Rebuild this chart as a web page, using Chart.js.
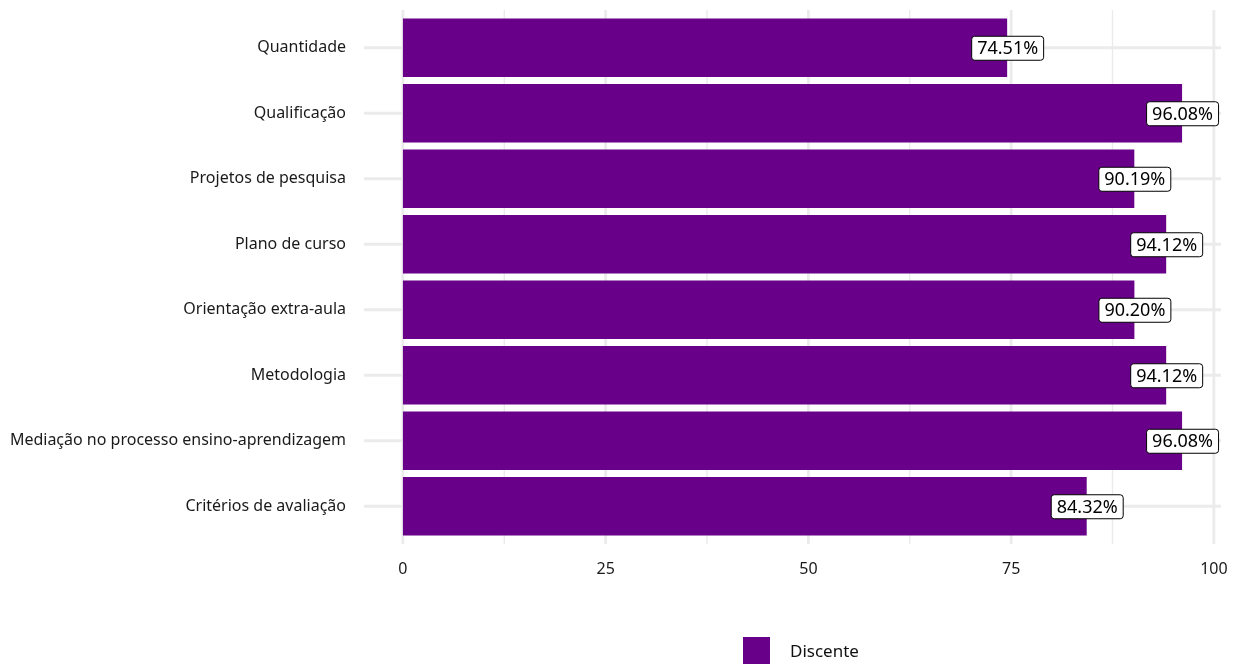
<!DOCTYPE html>
<html>
<head>
<meta charset="utf-8">
<script src="https://cdn.jsdelivr.net/npm/chart.js@4"></script>
<style>
    html, body { margin: 0; padding: 0; background: #fff; }
    #wrap { width: 1243px; height: 664px; }
</style>
</head>
<body>
<div id="wrap"><canvas id="chart_discente"></canvas></div>
<script>
const categories = [
    "Quantidade",
    "Qualificação",
    "Projetos de pesquisa",
    "Plano de curso",
    "Orientação extra-aula",
    "Metodologia",
    "Mediação no processo ensino-aprendizagem",
    "Critérios de avaliação"
]
const discente_values = [74.51, 96.08, 90.19, 94.12, 90.20, 94.12, 96.08, 84.32]
const x_ticks = [0, 25, 50, 75, 100]
const x_minor = [12.5, 37.5, 62.5, 87.5]
const series_name = "Discente"

const PURPLE = "#68008a"
const GRID = "#ebebeb"
const FONT = "'Noto Sans', sans-serif"

// ggplot-like panel grid (drawn before the bars)
const gridPlugin = {
    id: "gridPlugin",
    beforeDatasetsDraw(chart) {
        const ctx = chart.ctx
        const x = chart.scales.x
        const y = chart.scales.y
        const area = chart.chartArea
        const top = area.top - 5
        const bottom = area.bottom + 5
        ctx.save()
        ctx.strokeStyle = GRID
        ctx.lineWidth = 1.4
        x_minor.forEach(v => {
            const px = x.getPixelForValue(v)
            ctx.beginPath(); ctx.moveTo(px, top); ctx.lineTo(px, bottom); ctx.stroke()
        })
        ctx.lineWidth = 2.8
        x_ticks.forEach(v => {
            const px = x.getPixelForValue(v)
            ctx.beginPath(); ctx.moveTo(px, top); ctx.lineTo(px, bottom); ctx.stroke()
        })
        categories.forEach((c, i) => {
            const py = y.getPixelForValue(i)
            ctx.beginPath(); ctx.moveTo(area.left, py); ctx.lineTo(area.right, py); ctx.stroke()
        })
        ctx.restore()
    }
}

// value boxes at the end of each bar + bottom legend
const labelPlugin = {
    id: "labelPlugin",
    afterDatasetsDraw(chart) {
        const ctx = chart.ctx
        const meta = chart.getDatasetMeta(0)
        ctx.save()
        ctx.font = "18px " + FONT
        ctx.textAlign = "center"
        ctx.textBaseline = "middle"
        meta.data.forEach((bar, i) => {
            const txt = discente_values[i].toFixed(2) + "%"
            const w = ctx.measureText(txt).width + 11
            const h = 24
            const bx = bar.x - w / 2
            const by = bar.y - h / 2
            ctx.beginPath()
            ctx.roundRect(bx + 0.5, by + 0.5, w, h, 3)
            ctx.fillStyle = "#fff"
            ctx.fill()
            ctx.strokeStyle = "#000"
            ctx.lineWidth = 1
            ctx.stroke()
            ctx.fillStyle = "#000"
            ctx.fillText(txt, bar.x + 0.5, bar.y + 1.5)
        })

        ctx.font = "17px " + FONT
        ctx.fillStyle = PURPLE
        ctx.fillRect(743, 637, 27, 27)
        ctx.fillStyle = "#111"
        ctx.textAlign = "left"
        ctx.fillText(series_name, 790, 652)
        ctx.restore()
    }
}

function create_bar_chart(canvas) {
    const data = {
        labels: categories,
        datasets: [{
            label: series_name,
            data: discente_values,
            backgroundColor: PURPLE,
            borderWidth: 0,
            barPercentage: 0.89,
            categoryPercentage: 1.0
        }]
    }

    const config = {
        type: "bar",
        data: data,
        options: {
            indexAxis: "y",
            responsive: true,
            maintainAspectRatio: false,
            animation: false,
            layout: { padding: { top: 15, right: 22, bottom: 0, left: 0 } },
            plugins: {
                legend: { display: false },
                tooltip: { enabled: false }
            },
            scales: {
                x: {
                    min: -4.8,
                    max: 100.88,
                    grid: { display: false, drawTicks: false },
                    border: { display: false },
                    afterBuildTicks: (scale) => {
                        scale.ticks = x_ticks.map(v => ({ value: v }))
                    },
                    afterFit: (scale) => {
                        scale.height = 125
                        scale.paddingLeft = 0
                        scale.paddingRight = 0
                    },
                    ticks: {
                        color: "#1a1a1a",
                        font: { family: FONT, size: 16 },
                        padding: 21,
                        maxRotation: 0
                    }
                },
                y: {
                    grid: { display: false, drawTicks: false },
                    border: { display: false },
                    afterFit: (scale) => {
                        scale.width = 364
                        scale.paddingTop = 0
                        scale.paddingBottom = 0
                    },
                    ticks: {
                        color: "#1a1a1a",
                        font: { family: FONT, size: 16 },
                        padding: 18
                    }
                }
            }
        },
        plugins: [gridPlugin, labelPlugin]
    }
    return new Chart(canvas, config)
}

create_bar_chart(document.querySelector("#chart_discente"))
</script>
</body>
</html>
